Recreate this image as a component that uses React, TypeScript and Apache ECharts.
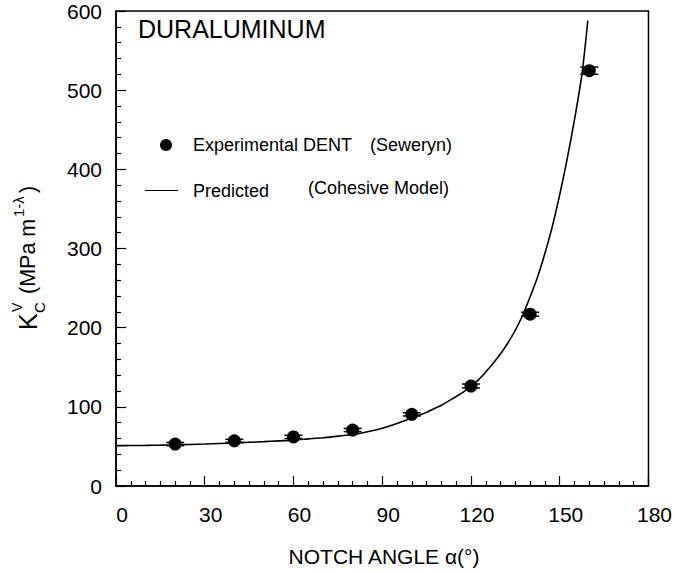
import React, { useEffect, useRef } from "react";
import * as echarts from "echarts";

// Predicted curve (Cohesive Model)
const curveAngles = [
  0, 5, 10, 15, 20, 25, 30, 35, 40, 45, 50, 55, 60, 65, 70, 75, 80, 85, 90, 95, 100,
  102.5, 105, 107.5, 110, 112.5, 115, 117.5, 120, 122.5, 125, 127.5, 130, 132.5, 135, 137.5,
  140, 142.5, 145, 147.5, 150, 152.5, 155, 157.5, 159.5,
];
const curveValues = [
  51, 51.1, 51.3, 51.6, 52, 52.5, 53, 53.7, 54.4, 55.2, 56, 57, 58, 59.5, 61, 63, 65, 68.5, 73, 79, 86,
  89.5, 93, 97.5, 102, 107.5, 113, 119, 126, 134, 144, 155, 167, 181, 197, 216,
  239, 264, 294, 328, 368, 413, 463, 520, 588,
];

// Experimental DENT (Seweryn)
const expAngles = [20, 40, 60, 80, 100, 120, 140, 160];
const expValues = [53, 57, 62, 70.7, 90.5, 126.3, 217, 524.6];
const expErrors = [2, 2, 2, 2, 2, 2.5, 2.5, 4.5];

const FONT = "'Liberation Sans', Arial, Helvetica, sans-serif";

export default function App() {
  const ref = useRef<HTMLDivElement>(null);
  useEffect(() => {
    const chart = echarts.init(ref.current!, null, { renderer: "svg" });
    const axisCommon = {
      axisLine: { show: true, lineStyle: { color: "#000", width: 1.5 } },
      axisTick: { show: true, inside: true, length: 10, lineStyle: { color: "#000", width: 1.2 } },
      splitLine: { show: false },
    };
    const t = (text: string, x: number, y: number, fontSize: number) => ({
      type: "text", x, y,
      style: { text, fontSize, fontFamily: FONT, fill: "#000", verticalAlign: "middle", align: "left" },
    });
    chart.setOption({
      animation: false,
      backgroundColor: "#fff",
      grid: {
        left: 116, right: 24, top: 11, bottom: 87,
        show: true, borderColor: "#000", borderWidth: 1.5, backgroundColor: "transparent",
      },
      xAxis: {
        type: "value", min: 0, max: 180, interval: 30,
        ...axisCommon,
        minorTick: { show: true, splitNumber: 6, length: 5, lineStyle: { color: "#000", width: 1.2 } },
        axisLabel: { color: "#000", fontSize: 21, fontFamily: FONT, margin: 18, padding: [0, 0, 0, 12] },
      },
      yAxis: {
        type: "value", min: 0, max: 600, interval: 100,
        ...axisCommon,
        minorTick: { show: true, splitNumber: 5, length: 5, lineStyle: { color: "#000", width: 1.2 } },
        axisLabel: { color: "#000", fontSize: 21, fontFamily: FONT, margin: 14 },
      },
      series: [
        {
          type: "line",
          data: curveAngles.map((a, i) => [a, curveValues[i]]),
          smooth: 0.25,
          symbol: "none",
          lineStyle: { color: "#000", width: 1.6 },
          z: 2,
        },
        {
          type: "custom",
          encode: { x: 0, y: 1 },
          data: expAngles.map((a, i) => [a, expValues[i], expErrors[i]]),
          renderItem: (params: any, api: any) => {
            const x = api.value(0);
            const y = api.value(1);
            const e = api.value(2);
            const top = api.coord([x, y + e]);
            const bot = api.coord([x, y - e]);
            const hw = 9;
            const st = { stroke: "#000", lineWidth: 1.5 };
            return {
              type: "group",
              children: [
                { type: "line", shape: { x1: top[0] - hw, y1: top[1], x2: top[0] + hw, y2: top[1] }, style: st },
                { type: "line", shape: { x1: bot[0] - hw, y1: bot[1], x2: bot[0] + hw, y2: bot[1] }, style: st },
                { type: "line", shape: { x1: top[0], y1: top[1], x2: bot[0], y2: bot[1] }, style: st },
              ],
            };
          },
          z: 3,
        },
        {
          type: "scatter",
          data: expAngles.map((a, i) => [a, expValues[i]]),
          symbol: "circle",
          symbolSize: 13,
          itemStyle: { color: "#000", opacity: 1 },
          z: 4,
        },
      ],
      graphic: [
        {
          type: "text", left: 138, top: 16,
          style: { text: "DURALUMINUM", fontSize: 25, fontFamily: FONT, fill: "#000" },
        },
        { type: "circle", shape: { cx: 166, cy: 145, r: 6 }, style: { fill: "#000" } },
        t("Experimental DENT", 193, 145, 18),
        t("(Seweryn)", 370, 145, 18),
        { type: "line", shape: { x1: 145, y1: 190.5, x2: 178, y2: 190.5 }, style: { stroke: "#000", lineWidth: 1.2 } },
        t("Predicted", 193, 191, 18),
        t("(Cohesive Model)", 308, 188, 18),
        {
          type: "text", x: 384, y: 556,
          style: { text: "NOTCH ANGLE \u03b1(\u00b0)", fontSize: 21, fontFamily: FONT, fill: "#000", verticalAlign: "middle", align: "center" },
        },
        {
          type: "group", x: 28, y: 330, rotation: Math.PI / 2,
          children: [
            t("K", 0, 0, 25),
            t("C", 17, 11, 15),
            t("V", 18, -11, 14),
            t("(MPa m", 36, 0, 21.5),
            t("1-\u03bb", 113, -10, 15),
            t(")", 137, 0, 21.5),
          ],
        },
      ],
    });
    return () => chart.dispose();
  }, []);
  return <div ref={ref} style={{ position: "fixed", left: 0, top: 0, width: 675, height: 573 }} />;
}
